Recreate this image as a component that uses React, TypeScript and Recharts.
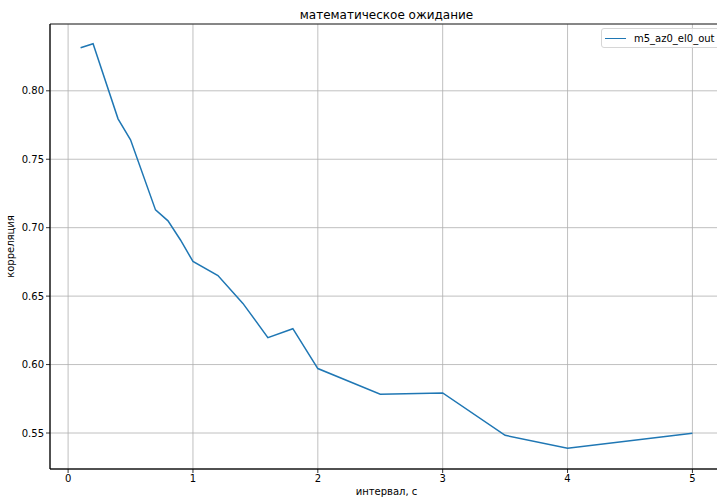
import React from "react";
import {
  CartesianGrid,
  Line,
  LineChart,
  ReferenceArea,
  XAxis,
  YAxis,
} from "recharts";

const seriesName = "m5_az0_el0_out";
const intervals = [0.1, 0.2, 0.4, 0.5, 0.7, 0.8, 0.9, 1.0, 1.2, 1.4, 1.6, 1.8, 2.0, 2.5, 3.0, 3.5, 4.0, 5.0];
const correlation = [
  0.8314, 0.8344, 0.7795, 0.7642, 0.713, 0.705, 0.691, 0.6753, 0.665, 0.6447,
  0.6197, 0.6262, 0.5971, 0.5783, 0.5793, 0.5483, 0.5389, 0.5498,
];
const xTicks = [0, 1, 2, 3, 4, 5];
const yTicks = [0.55, 0.6, 0.65, 0.7, 0.75, 0.8];

const xDomain: [number, number] = [-0.145, 5.245];
const yDomain: [number, number] = [0.5237, 0.8488];

const data = intervals.map((x, i) => ({ x, y: correlation[i] }));

const font = "'DejaVu Sans', sans-serif";
const tickStyle = { fontSize: 10, fill: "#000", fontFamily: font };

export default function App() {
  return (
    <div
      style={{
        position: "absolute",
        left: 0,
        top: 0,
        width: 717,
        height: 497,
        overflow: "hidden",
        background: "#fff",
        fontFamily: font,
      }}
    >
      <div
        style={{
          position: "absolute",
          left: 0,
          width: 773,
          top: 8,
          textAlign: "center",
          fontSize: 12,
          color: "#000",
        }}
      >
        математическое ожидание
      </div>

      <LineChart
        width={740}
        height={510}
        data={data}
        margin={{ top: 24, right: 17, bottom: 0, left: 0 }}
      >
        <CartesianGrid stroke="#b0b0b0" strokeWidth={0.8} />
        <XAxis
          dataKey="x"
          type="number"
          domain={xDomain}
          ticks={xTicks}
          allowDataOverflow
          height={41}
          tickSize={4}
          tickLine={{ stroke: "#000", strokeWidth: 0.8 }}
          axisLine={{ stroke: "#000", strokeWidth: 0.8 }}
          tick={tickStyle}
          label={{
            value: "интервал, с",
            position: "insideBottom",
            offset: 15,
            style: { fontSize: 10, fill: "#000", fontFamily: font },
          }}
        />
        <YAxis
          type="number"
          domain={yDomain}
          ticks={yTicks}
          allowDataOverflow
          width={50}
          tickSize={4}
          tickLine={{ stroke: "#000", strokeWidth: 0.8 }}
          axisLine={{ stroke: "#000", strokeWidth: 0.8 }}
          tick={tickStyle}
          tickFormatter={(v: number) => v.toFixed(2)}
          label={{
            value: "корреляция",
            angle: -90,
            position: "insideLeft",
            offset: 10,
            style: { fontSize: 10, fill: "#000", fontFamily: font, textAnchor: "middle" },
          }}
        />
        <ReferenceArea
          x1={xDomain[0]}
          x2={xDomain[1]}
          y1={yDomain[0]}
          y2={yDomain[1]}
          fill="none"
          fillOpacity={0}
          stroke="#000"
          strokeWidth={0.8}
          ifOverflow="visible"
        />
        <Line
          type="linear"
          dataKey="y"
          name={seriesName}
          stroke="#1f77b4"
          strokeWidth={1.5}
          dot={false}
          isAnimationActive={false}
        />
      </LineChart>

      <div
        style={{
          position: "absolute",
          left: 601,
          top: 28,
          width: 124,
          height: 18,
          border: "1px solid #d6d6d6",
          borderRadius: 3,
          background: "rgba(255,255,255,0.8)",
          display: "flex",
          alignItems: "center",
          fontSize: 10,
          color: "#000",
        }}
      >
        <span
          style={{
            display: "inline-block",
            width: 21,
            height: 0,
            borderTop: "1.5px solid #1f77b4",
            marginLeft: 3,
            marginRight: 8,
          }}
        />
        <span>{seriesName}</span>
      </div>
    </div>
  );
}
